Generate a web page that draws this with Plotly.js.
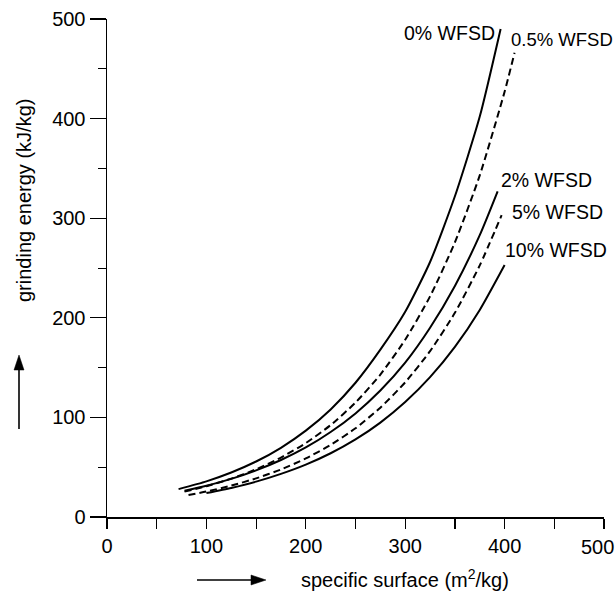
<!DOCTYPE html>
<html>
<head>
<meta charset="utf-8">
<script src="https://cdn.plot.ly/plotly-3.0.1.min.js"></script>
<style>html,body{margin:0;padding:0;background:#fff;}#chart{width:616px;height:592px;}</style>
</head>
<body>
<div id="chart"></div>
<script>
// Series
const seriesNames = ["0% WFSD", "0.5% WFSD", "2% WFSD", "5% WFSD", "10% WFSD"];

const x0 = [72, 100, 125, 150, 175, 200, 225, 250, 275, 300, 325, 350, 375, 396];
const y0 = [28, 35.8, 44.7, 55.7, 69.5, 86.7, 108, 134.8, 168, 206, 256, 322, 402, 490];

const x05 = [78, 100, 125, 150, 175, 200, 225, 250, 275, 300, 325, 350, 375, 400, 410];
const y05 = [25.5, 30.9, 38.5, 47.9, 59.7, 74.2, 92.3, 114.9, 143, 178, 221.5, 275.8, 343, 427, 466];

const x2 = [78, 100, 125, 150, 175, 200, 225, 250, 275, 300, 325, 350, 375, 393];
const y2 = [26.3, 31.4, 38.3, 46.8, 57.2, 69.8, 85.3, 104, 127, 155, 190, 232, 283, 327];

const x5 = [82, 100, 125, 150, 175, 200, 225, 250, 275, 300, 325, 350, 375, 397];
const y5 = [22, 25.6, 31.5, 38.8, 47.7, 58.8, 72.4, 89.1, 109.8, 135.2, 166.5, 205, 252.6, 303];

const x10 = [100, 125, 150, 175, 200, 225, 250, 275, 300, 325, 350, 375, 400];
const y10 = [24, 29.2, 35.5, 43.3, 52.6, 64, 77.9, 94.8, 115.4, 140.4, 170.8, 207.9, 253];

const tickVals = [0, 100, 200, 300, 400, 500];
const tickText = ["0", "100", "200", "300", "400", "500"];

const FONT = "Liberation Sans, Arial, sans-serif";
const FS = 20;
const LFS = 19.5;
const dashPat = "7px,4px";

function line(x, y, name, dashed) {
  return {
    type: "scatter", mode: "lines", x: x, y: y, name: name,
    line: {color: "#000", width: 2, shape: "spline", smoothing: 0.6, dash: dashed ? dashPat : "solid"},
    hoverinfo: "skip"
  };
}

const traces = [
  line(x0, y0, seriesNames[0], false),
  line(x05, y05, seriesNames[1], true),
  line(x2, y2, seriesNames[2], false),
  line(x5, y5, seriesNames[3], true),
  line(x10, y10, seriesNames[4], false)
];

// pixel helpers for placement (plot area: left 107, right 604, top 19, bottom 517)
const L = 107, R = 604, T = 19, B = 517;
const px = p => (p - L) / (R - L);
const py = p => (B - p) / (B - T);

function lbl(text, cx, cy, size) {
  return {text: text, xref: "paper", yref: "paper", x: px(cx), y: py(cy),
          xanchor: "center", yanchor: "middle", showarrow: false,
          font: {family: FONT, size: size || LFS, color: "#000"}};
}

// the last x tick label is nudged inward (as in the reference) so it stays inside the page;
// its tick mark is drawn by the minor ticks
const lastIdx = tickVals.length - 1;
const xTickVals = tickVals.slice(0, lastIdx);
const xTickText = tickText.slice(0, lastIdx);

const annotations = [
  lbl(seriesNames[0], 449, 33),
  lbl(seriesNames[1], 562, 40, 18.5),
  lbl(seriesNames[2], 546, 180),
  lbl(seriesNames[3], 557, 212),
  lbl(seriesNames[4], 556, 250),
  {text: tickText[lastIdx], xref: "x", yref: "paper", x: tickVals[lastIdx], xshift: -7,
   y: py(547), xanchor: "center", yanchor: "middle", showarrow: false,
   font: {family: FONT, size: FS, color: "#000"}},
  {text: "grinding energy (kJ/kg)", xref: "paper", yref: "paper", x: px(24), y: py(201),
   xanchor: "center", yanchor: "middle", textangle: -90, showarrow: false,
   font: {family: FONT, size: FS, color: "#000"}},
  {text: "specific surface (m<sup>2</sup>/kg)", xref: "paper", yref: "paper", x: px(405), y: py(578),
   xanchor: "center", yanchor: "middle", showarrow: false,
   font: {family: FONT, size: FS, color: "#000"}}
];

function pth(pts) {
  return "M " + pts.map(p => px(p[0]) + "," + py(p[1])).join(" L ") + " Z";
}

const shapes = [
  // vertical arrow
  {type: "line", xref: "paper", yref: "paper", x0: px(19), y0: py(429), x1: px(19), y1: py(368),
   line: {color: "#000", width: 1.6}},
  {type: "path", xref: "paper", yref: "paper", path: pth([[19, 355], [14, 370], [24, 370]]),
   fillcolor: "#000", line: {color: "#000", width: 0.5}},
  // horizontal arrow
  {type: "line", xref: "paper", yref: "paper", x0: px(197), y0: py(580), x1: px(253), y1: py(580),
   line: {color: "#000", width: 1.6}},
  {type: "path", xref: "paper", yref: "paper", path: pth([[266, 580], [251, 575], [251, 585]]),
   fillcolor: "#000", line: {color: "#000", width: 0.5}}
];

const layout = {
  width: 616, height: 592,
  margin: {l: L, r: 616 - R, t: T, b: 592 - B, pad: 0},
  paper_bgcolor: "#fff", plot_bgcolor: "#fff",
  showlegend: false,
  font: {family: FONT, size: FS, color: "#000"},
  xaxis: {
    range: [0, 500], tickmode: "array", tickvals: xTickVals, ticktext: xTickText,
    ticks: "outside", ticklen: 10, tickwidth: 1.3, tickcolor: "#000",
    minor: {dtick: 50, ticks: "outside", ticklen: 10, tickwidth: 1.2, tickcolor: "#000"},
    showline: true, linecolor: "#000", linewidth: 1.5, showgrid: false, zeroline: false,
    tickfont: {family: FONT, size: FS, color: "#000"}, fixedrange: true
  },
  yaxis: {
    range: [0, 500], tickmode: "array", tickvals: tickVals, ticktext: tickText,
    ticks: "outside", ticklen: 16, tickwidth: 1.3, tickcolor: "#000",
    minor: {dtick: 50, ticks: "outside", ticklen: 8, tickwidth: 1, tickcolor: "#000"},
    showline: true, linecolor: "#000", linewidth: 1.5, showgrid: false, zeroline: false,
    tickfont: {family: FONT, size: FS, color: "#000"}, fixedrange: true
  },
  annotations: annotations,
  shapes: shapes
};

Plotly.newPlot("chart", traces, layout, {staticPlot: true, displayModeBar: false});
</script>
</body>
</html>
